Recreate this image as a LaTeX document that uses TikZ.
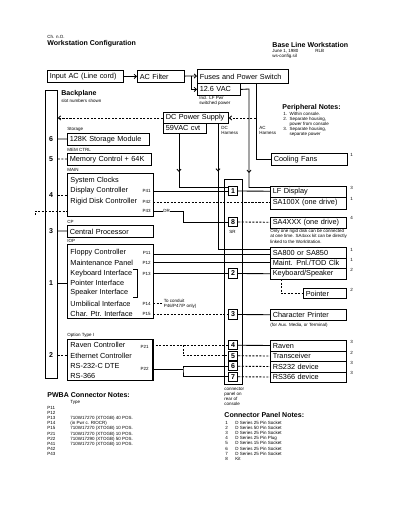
\documentclass[tikz,border=0pt]{standalone}
\usepackage{fontspec}
\setmainfont{Liberation Sans}
\usetikzlibrary{positioning, arrows.meta, decorations.markings}
\newcommand\fsz[2]{\fontsize{#1}{#2}\selectfont}
\tikzset{
    unitbox/.style={draw, anchor=north west, inner xsep=0.06cm, inner ysep=0pt,
        minimum height=0.28cm, text width=#1, font=\fsz{5.2}{6}},
    boxrow/.style={anchor=west, inner sep=0pt, font=\fsz{5.2}{6}},
    heading/.style={anchor=west, inner sep=0pt, font=\fsz{5}{6}\bfseries},
    tag/.style={anchor=west, inner sep=0pt, align=left, font=\fsz{3.2}{3.7}},
    pinlabel/.style={anchor=east, inner sep=0pt, font=\fsz{3.2}{3.7}},
    slotno/.style={inner sep=0pt, font=\fsz{5}{6}\bfseries},
    conn/.style={draw, fill=white, minimum width=0.24cm, minimum height=0.23cm,
        inner sep=0pt, font=\fsz{5}{6}\bfseries},
    dwire/.style={dash pattern=on 1.5pt off 1pt},
    arr/.style={-{Straight Barb[length=1.6pt, width=3pt]}},
    chev/.style={postaction={decorate}, decoration={markings,
        mark=at position #1 with {\arrow{Straight Barb[length=1.6pt, width=3pt]}}}}
}

\begin{document}
\begin{tikzpicture}[x=0.025cm, y=-0.025cm, line width=0.6pt]
    \useasboundingbox (0,0) rectangle (400,518);

    % header
    \node[tag] (chap) at (47,37) {Ch. n.O.};
    \node[heading] (title) at (47,44) {Workstation Configuration};
    \node[heading] (base) at (272,45) {Base Line Workstation};
    \node[tag] (date) at (272,51) {June 1, 1980};
    \node[tag] (who) at (315,51) {RLB};
    \node[tag] (file) at (272,56) {ws-config.sil};

    % AC input and power
    \node[unitbox=1.78cm, minimum height=0.3cm] (inac) at (47,70) {Input AC (Line cord)};
    \node[unitbox=1.055cm, minimum height=0.3cm] (acf) at (137,70) {AC Filter};
    \node[unitbox=2.155cm, minimum height=0.35cm] (fuses) at (197,69) {Fuses and Power Switch};
    \node[unitbox=0.955cm, minimum height=0.3cm] (vac) at (197,83) {12.6 VAC};
    \node[tag, anchor=north west] (vacnote) at (199,96) {Incl. LF Pwr\\switched power};
    \coordinate (split) at (191,76);
    \draw[arr] (inac) -- (acf);
    \draw (acf) -- (split);
    \draw[arr] (split) -- (fuses);
    \draw[arr] (split) |- (vac);

    \node[unitbox=1.505cm, minimum height=0.275cm] (dcps) at (163,112) {DC Power Supply};
    \node[unitbox=0.955cm, minimum height=0.25cm] (cvt) at (163,123) {59VAC cvt};
    \node[tag, anchor=north west] at (221,126) {DC\\Harness};
    \node[tag, anchor=north west] at (259,126) {AC\\Harness};

    % backplane
    \node[draw, anchor=north west, minimum width=0.3cm, minimum height=7.2cm, inner sep=0pt] (bplane) at (45,90) {};
    \node[heading] (bplabel) at (61,94) {Backplane};
    \node[tag] at (61,101) {slot numbers shown};
    \foreach \n/\y in {6/139, 5/159, 4/195, 3/231, 1/283, 2/355}
        \node[slotno] (slot\n) at (51,\y) {\n};
    \draw[dwire, arr] (dcps) -- (bplane.east |- dcps);

    % boards
    \node[tag, anchor=south west] at (67,132) {Storage};
    \node[unitbox=1.93cm, minimum height=0.3cm] (store) at (67,133) {128K Storage Module};
    \node[tag, anchor=south west] at (67,152) {MEM CTRL};
    \node[unitbox=1.98cm, minimum height=0.3cm] (memctl) at (67,153) {Memory Control + 64K};

    \node[tag, anchor=south west] at (67,172) {MAIN};
    \node[draw, anchor=north west, minimum width=2.15cm, minimum height=1.075cm, inner sep=0pt] (main) at (67,173) {};
    \node[boxrow] (clk) at (70,181) {System Clocks};
    \node[boxrow] (disp) at (70,191) {Display Controller};
    \node[boxrow] (rdc) at (70,201.5) {Rigid Disk Controller};
    \node[pinlabel] at (151,191) {P41};
    \node[pinlabel] at (151,201.5) {P42};
    \node[pinlabel] at (151,211) {P43};

    \node[tag, anchor=south west] at (67,224) {CP};
    \node[unitbox=2.03cm, minimum height=0.3cm] (cpu) at (67,225) {Central Processor};

    \node[tag, anchor=south west] at (67,243) {IOP};
    \node[draw, anchor=north west, minimum width=2.15cm, minimum height=1.85cm, inner sep=0pt] (iop) at (67,244) {};
    \node[boxrow] (flop) at (70,252.5) {Floppy Controller};
    \node[boxrow] (mpnl) at (70,262.75) {Maintenance Panel};
    \node[boxrow] (kbif) at (70,273.5) {Keyboard Interface};
    \node[boxrow] (ptif) at (70,283) {Pointer Interface};
    \node[boxrow] (spif) at (70,293) {Speaker Interface};
    \node[boxrow] (umif) at (70,303.5) {Umbilical Interface};
    \node[boxrow] (chif) at (70,314) {Char. Ptr. Interface};
    \node[pinlabel] at (151,252.5) {P11};
    \node[pinlabel] at (151,262.75) {P12};
    \node[pinlabel] at (151,273.5) {P13};
    \node[pinlabel] at (151,303.5) {P14};
    \node[pinlabel] at (151,314) {P15};
    \draw (133,269) -- (137,269) -- (137,297) -- (133,297);

    \node[tag, anchor=south west] at (67,338) {Option Type I};
    \node[draw, anchor=north west, minimum width=2.125cm, minimum height=1.025cm, inner sep=0pt] (opt) at (67,339) {};
    \draw[line width=1.2pt] (opt.north east) -- (opt.south east);
    \node[boxrow] (ravc) at (70,345) {Raven Controller};
    \node[boxrow] (ethc) at (70,355.5) {Ethernet Controller};
    \node[boxrow] (dte) at (70,366) {RS-232-C DTE};
    \node[boxrow] (rs) at (70,376) {RS-366};
    \node[pinlabel] at (149,347) {P21};
    \node[pinlabel] at (149,369) {P22};

    % slot lines
    \draw (bplane.east |- slot6) -- (store);
    \draw[dwire] (bplane.east |- slot5) -- (memctl);
    \draw[dwire] (bplane.east |- slot4) -- (main.west |- slot4);
    \draw (bplane.east |- slot3) -- (cpu);
    \draw (bplane.east |- slot1) -- (iop.west |- slot1);
    \draw[dwire] (bplane.east |- slot2) -- (opt.west |- slot2);
    \coordinate (stub) at (35,215);
    \coordinate (p43) at (153,211);
    \draw[dwire] (stub) |- (main.west |- p43);

    % connector panel
    \node[draw, anchor=north west, minimum width=0.45cm, minimum height=5.125cm, inner sep=0pt] (panel) at (224,179) {};
    \foreach \n/\y in {1/191, 8/222, 2/273.5, 3/314.5, 4/345.25, 5/355.75, 6/366.25, 7/376.75}
        \node[conn] (conn\n) at (233,\y) {\n};
    \node[tag] at (229,232) {SR};
    \node[tag, anchor=north west] at (224,387) {connector\\panel on\\rear of\\console};

    % peripherals
    \node[unitbox=1.78cm, minimum height=0.3cm] (fans) at (271,153) {Cooling Fans};
    \node[unitbox=1.78cm, minimum height=0.275cm] (lfdisp) at (270,185.5) {LF Display};
    \node[unitbox=1.78cm, minimum height=0.3cm] (sa100) at (270,196.5) {SA100X (one drive)};
    \node[unitbox=1.78cm, minimum height=0.275cm] (sa4) at (270,216.5) {SA4XXX (one drive)};
    \node[tag, anchor=north west] at (270,229) {Only one rigid disk can be connected\\at one time. SA4xxx kit can be directly\\linked to the WorkStation.};
    \node[unitbox=1.78cm, minimum height=0.2625cm] (sa800) at (270,247) {SA800 or SA850};
    \node[unitbox=1.78cm, minimum height=0.2625cm] (maint) at (270,257.5) {Maint. Pnl./TOD Clk};
    \node[unitbox=1.78cm, minimum height=0.275cm] (kbd) at (270,268) {Keyboard/Speaker};
    \node[unitbox=0.955cm, minimum height=0.25cm] (pointer) at (303,288) {Pointer};
    \node[unitbox=1.78cm, minimum height=0.275cm] (chprn) at (270,309) {Character Printer};
    \node[tag] at (270,325) {(for Aux. Media, or Terminal)};
    \node[unitbox=1.78cm, minimum height=0.2625cm] (raven) at (270,340) {Raven};
    \node[unitbox=1.78cm, minimum height=0.2625cm] (trans) at (270,350.5) {Transceiver};
    \node[unitbox=1.78cm, minimum height=0.2625cm] (rs232) at (270,361) {RS232 device};
    \node[unitbox=1.78cm, minimum height=0.2625cm] (rs366) at (270,371.5) {RS366 device};
    \foreach \t/\y in {1/155, 3/188, 1/199, 4/218, 1/250, 1/260, 2/270, 2/290, 3/342, 2/353, 3/363, 3/373}
        \node[tag] at (350,\y) {\t};

    % power wiring
    \coordinate (ach) at (256,83);
    \coordinate (vacdrop) at (249,89);
    \coordinate (cvtout) at (179,133);
    \coordinate (dch) at (218,123.5);
    \draw (ach) |- (fans);
    \draw[dwire, arr] (ach |- dcps) -- (dcps);
    \draw[chev=2.3cm] (vac.east) -- (vacdrop) |- ([yshift=1mm]lfdisp.west);
    \draw[chev=0.975cm] (cvtout) |- ([yshift=1mm]conn1.west);
    \draw[chev=1.2cm] (dch) |- ([yshift=0.7mm]sa800.west);

    % signal wiring
    \coordinate (p41) at (153,191);
    \coordinate (p42) at (153,202.5);
    \coordinate (drbend) at (183,211);
    \coordinate (p11) at (153,254);
    \coordinate (p12) at (153,262.75);
    \coordinate (p13) at (153,273.5);
    \coordinate (p14) at (153,303.5);
    \coordinate (p15) at (153,314.5);
    \coordinate (kbdtap) at (281,279);
    \coordinate (p21) at (152,345.25);
    \coordinate (br1) at (183,345.25);
    \coordinate (p22) at (152,369);
    \coordinate (br2) at (183,369);

    \draw (p41) -- (conn1);
    \draw (conn1) -- (lfdisp);
    \draw[dwire] (p42) -- (p42 -| sa100.west);
    \draw (p43) -- node[tag, anchor=center, fill=white, inner sep=0.3pt, pos=0.45] {DR} (drbend) |- (conn8);
    \draw[dwire] (conn8) -- (sa4);
    \draw (p11) -- (p11 -| sa800.west);
    \draw (p12) -- (p12 -| maint.west);
    \draw (p13) -- (conn2);
    \draw (conn2) -- (kbd);
    \draw[dwire] (kbdtap) |- (pointer);
    \draw[dwire] (p14) -- ++(9,0) node[tag, anchor=west, xshift=1pt] {To conduit\\P46/P47/P only)};
    \draw[dwire] (p15) -- (conn3);
    \draw (conn3) -- (chprn);
    \draw[dwire] (p21) -- (conn4);
    \draw[dwire] (br1) |- (conn5);
    \draw (conn4) -- (raven);
    \draw[dwire] (conn5) -- (trans);
    \draw (p22) -- (br2);
    \draw (conn6) -| (br2) |- (conn7);
    \draw[dwire] (conn6) -- (rs232);
    \draw[dwire] (conn7) -- (rs366);

    % notes
    \node[heading] (pnotes) at (282,108) {Peripheral Notes:};
    \node[tag, anchor=north west] at (283,111) {\begin{tabular}{@{}l@{\ \ }l@{}}
        1. & Within console.\\
        2. & Separate housing,\\
           & power from console\\
        3. & Separate housing,\\
           & separate power
    \end{tabular}};

    \node[heading] (pwba) at (47,395) {PWBA Connector Notes:};
    \node[tag] at (70,402) {Type};
    \node[tag, anchor=north west] at (47,405) {\begin{tabular}{@{}p{0.575cm}@{}l@{}}
        P11 & \\
        P12 & \\
        P13 & 710W17270 (XTOGB) 40 POS.\\
        P14 & (in Pwr c. RIOCR)\\
        P15 & 710W17270 (XTOGB) 10 POS.\\
        P21 & 710W17270 (XTOGB) 10 POS.\\
        P22 & 710W17290 (XTOGB) 50 POS.\\
        P41 & 710W17270 (XTOGB) 10 POS.\\
        P42 & \\
        P43 &
    \end{tabular}};

    \node[heading] (cpnotes) at (224,415) {Connector Panel Notes:};
    \node[tag, anchor=north west] at (225,420) {\begin{tabular}{@{}p{0.25cm}@{}l@{}}
        1 & D Series 25 Pin Socket\\
        2 & D Series 50 Pin Socket\\
        3 & D Series 25 Pin Socket\\
        4 & D Series 25 Pin Plug\\
        5 & D Series 15 Pin Socket\\
        6 & D Series 25 Pin Socket\\
        7 & D Series 25 Pin Socket\\
        8 & Kit
    \end{tabular}};
\end{tikzpicture}
\end{document}
